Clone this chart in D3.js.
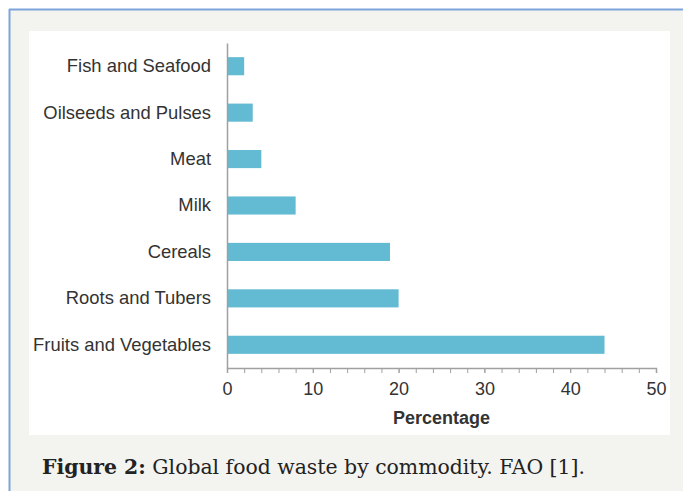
<!DOCTYPE html>
<html>
<head>
<meta charset="utf-8">
<script src="https://cdn.jsdelivr.net/npm/d3@7"></script>
<style>
  body { margin: 0; background: #fff; }
  #chart svg { display: block; }
</style>
</head>
<body>
<div id="chart"></div>
<script>
(function() {
    const categories = ["Fish and Seafood", "Oilseeds and Pulses", "Meat", "Milk", "Cereals", "Roots and Tubers", "Fruits and Vegetables"];
    const values = [2, 3, 4, 8, 19, 20, 44];
    const majorTicks = [0, 10, 20, 30, 40, 50];
    const axisTitle = "Percentage";
    const captionBold = "Figure 2:";
    const captionText = " Global food waste by commodity. FAO [1].";

    let dim = {
      "width": 683,
      "height": 491
    };
    let plot = {"left": 227, "right": 656, "top": 43, "bottom": 368};
    const font = 'Liberation Sans, Arial, sans-serif';

    let svg = d3.select('#chart').append('svg').attr('width', dim.width).attr('height', dim.height);

    // page frame
    svg.append('rect').attr('x', 9).attr('y', 9).attr('width', dim.width - 9).attr('height', dim.height - 9)
      .attr('fill', '#f3f3ef');
    svg.append('line').attr('x1', 9).attr('x2', dim.width).attr('y1', 9.5).attr('y2', 9.5)
      .attr('stroke', '#7fa4dc').attr('stroke-width', 2);
    svg.append('line').attr('x1', 9.5).attr('x2', 9.5).attr('y1', 9).attr('y2', dim.height)
      .attr('stroke', '#7fa4dc').attr('stroke-width', 2);

    // white chart panel
    svg.append('rect').attr('x', 29).attr('y', 31).attr('width', 641).attr('height', 404).attr('fill', '#fff');

    let scaleX = d3.scaleLinear()
      .domain([0, 50])
      .range([plot.left, plot.right]);

    let scaleY = d3.scaleBand()
      .domain(categories)
      .range([plot.top, plot.bottom])
      .paddingInner(0.61)
      .paddingOuter(0.305);

    svg.append('g')
      .selectAll('rect')
      .data(values)
      .join('rect')
      .attr('x', scaleX(0))
      .attr('y', (d, i) => scaleY(categories[i]))
      .attr('width', d => scaleX(d) - scaleX(0))
      .attr('height', scaleY.bandwidth())
      .attr('fill', '#62bbd3');

    // x axis: minor ticks every 2
    let axisX = d3.axisBottom(scaleX).tickValues(d3.range(0, 51, 2)).tickSize(5).tickFormat(() => '');
    let gx = svg.append('g').attr('transform', `translate(0,${plot.bottom})`).call(axisX);
    gx.select('.domain').attr('stroke', '#a0a0a0').attr('stroke-width', 1.5);
    gx.selectAll('.tick line').attr('stroke', '#a0a0a0');

    let axisMajor = d3.axisBottom(scaleX).tickValues(majorTicks).tickSize(5).tickPadding(9);
    let gm = svg.append('g').attr('transform', `translate(0,${plot.bottom})`).call(axisMajor);
    gm.select('.domain').remove();
    gm.selectAll('.tick line').attr('stroke', '#a0a0a0');
    gm.selectAll('.tick text')
      .attr('font-family', font)
      .attr('font-size', 18)
      .attr('fill', '#333');

    // y axis
    let axisY = d3.axisLeft(scaleY).tickSize(0).tickPadding(16);
    let gy = svg.append('g').attr('transform', `translate(${plot.left},0)`).call(axisY);
    gy.select('.domain').attr('stroke', '#a0a0a0').attr('stroke-width', 1.5);
    gy.selectAll('.tick text')
      .attr('font-family', font)
      .attr('font-size', 18.4)
      .attr('fill', '#333');

    svg.append('text')
      .attr('x', (plot.left + plot.right) / 2)
      .attr('y', 424)
      .attr('text-anchor', 'middle')
      .attr('font-family', font)
      .attr('font-size', 18)
      .attr('font-weight', 'bold')
      .attr('fill', '#333')
      .text(axisTitle);

    let cap = svg.append('text')
      .attr('x', 42)
      .attr('y', 474)
      .attr('font-family', 'DejaVu Serif, serif')
      .attr('font-size', 20.4)
      .attr('fill', '#222');
    cap.append('tspan').attr('font-weight', 'bold').text(captionBold);
    cap.append('tspan').text(captionText);
})();
</script>
</body>
</html>
